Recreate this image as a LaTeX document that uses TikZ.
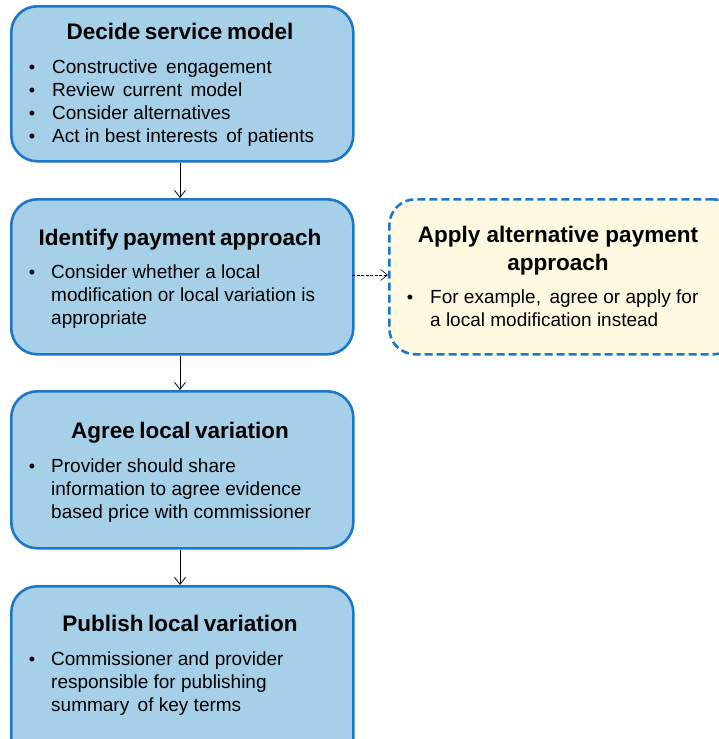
\documentclass[tikz,border=0pt]{standalone}
\usepackage{fontspec}
\setmainfont{Liberation Sans}
\usetikzlibrary{arrows.meta}
\definecolor{boxfill}{RGB}{166,207,232}
\definecolor{boxline}{RGB}{30,118,200}
\definecolor{altfill}{RGB}{255,249,225}
\newcommand{\tsp}{\hspace{0.2em}}
\tikzset{
  stepbox/.style={draw=boxline, line width=2.6pt, fill=boxfill, rounded corners=26pt, anchor=north west, inner sep=0pt},
  altbox/.style={stepbox, fill=altfill, dashed, dash pattern=on 8pt off 4pt},
  ttl/.style={font=\fontsize{22.5}{26}\selectfont\bfseries, anchor=base, inner sep=0pt},
  txt/.style={font=\fontsize{19}{23}\selectfont, anchor=base west, inner sep=0pt},
  bul/.style={font=\fontsize{18}{23}\selectfont, anchor=base, inner sep=0pt},
  flow/.style={-{Straight Barb[length=7pt,width=11pt]}, line width=0.8pt, black},
  dflow/.style={flow, line width=0.6pt, dash pattern=on 3pt off 1.5pt}
}
\begin{document}
\begin{tikzpicture}[x=1pt,y=-1pt]
\useasboundingbox (0,0) rectangle (719,739);
% boxes
\node[stepbox, minimum width=342pt, minimum height=155pt] (b1) at (10,5) {};
\node[stepbox, minimum width=342pt, minimum height=155pt] (b2) at (10,198) {};
\node[stepbox, minimum width=342pt, minimum height=157pt] (b3) at (10,390) {};
\node[stepbox, minimum width=342pt, minimum height=180pt] (b4) at (10,585) {};
\node[altbox, minimum width=350pt, minimum height=155pt] (b5) at (388,198) {};
% box 1
\node[ttl] (t1) at (180,39) {Decide\tsp service\tsp model};
\node[bul] (u11) at (32,73) {•};
\node[txt] (l11) at (52,73) {Constructive\, engagement};
\node[bul] (u12) at (32,96) {•};
\node[txt] (l12) at (52,96) {Review\, current\, model};
\node[bul] (u13) at (32,119) {•};
\node[txt] (l13) at (52,119) {Consider alternatives};
\node[bul] (u14) at (32,142) {•};
\node[txt] (l14) at (52,142) {Act in best interests\, of patients};
% box 2
\node[ttl] (t2) at (180,245) {Identify\tsp payment\tsp approach};
\node[bul] (u21) at (32,278) {•};
\node[txt] (l21) at (51,278) {Consider whether a local};
\node[txt] (l22) at (51,301) {modification or local variation is};
\node[txt] (l23) at (51,324) {appropriate};
% box 3
\node[ttl] (t3) at (180,438) {Agree\tsp local\tsp variation};
\node[bul] (u31) at (32,472) {•};
\node[txt] (l31) at (51,472) {Provider should share};
\node[txt] (l32) at (51,495) {information to agree evidence};
\node[txt] (l33) at (51,518) {based price with commissioner};
% box 4
\node[ttl] (t4) at (180,631) {Publish\tsp local\tsp variation};
\node[bul] (u41) at (32,665) {•};
\node[txt] (l41) at (51,665) {Commissioner and provider};
\node[txt] (l42) at (51,688) {responsible for publishing};
\node[txt] (l43) at (51,711) {summary\, of key terms};
% alt box
\node[ttl] (t51) at (558,242) {Apply alternative payment};
\node[ttl] (t52) at (558,270) {approach};
\node[bul] (u51) at (410,303) {•};
\node[txt] (l51) at (430,303) {For example,\, agree or apply for};
\node[txt] (l52) at (430,326) {a local modification instead};
% connectors
\draw[flow] (b1.south -| t1) -- (b2.north -| t1);
\draw[flow] (b2.south -| t1) -- (b3.north -| t1);
\draw[flow] (b3.south -| t1) -- (b4.north -| t1);
\coordinate (m) at (352,275);
\draw[dflow] (m) -- (m -| b5.west);
\end{tikzpicture}
\end{document}
